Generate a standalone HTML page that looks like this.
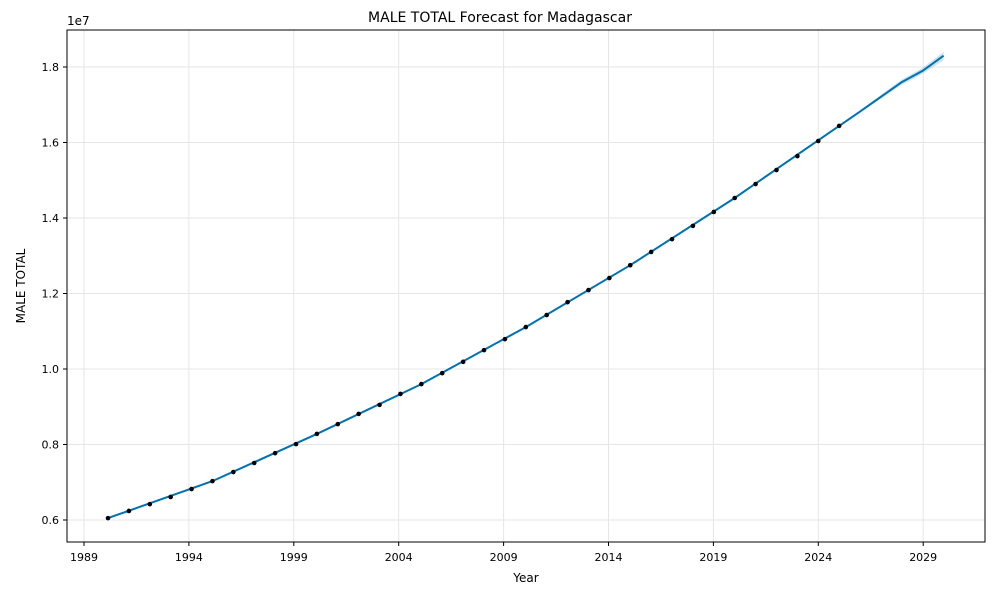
<!DOCTYPE html>
<html><head><meta charset="utf-8"><style>
body{margin:0;background:#fff;font-family:"Liberation Sans","DejaVu Sans",sans-serif}
svg text{font-family:"DejaVu Sans","Liberation Sans",sans-serif;fill:#000}
</style></head><body>
<svg id="chart" width="1000" height="600" xmlns="http://www.w3.org/2000/svg">
<rect width="1000" height="600" fill="#fff"/>
<g id="grid"></g>
<g id="band"></g>
<g id="marks"></g>
<rect x="67" y="30" width="918" height="512" fill="none" stroke="#000" stroke-width="1"/>
<g id="axes"></g>
<text x="500" y="22" text-anchor="middle" font-size="14">MALE TOTAL Forecast for Madagascar</text>
<text x="526" y="582" text-anchor="middle" font-size="12">Year</text>
<text x="25" y="286" text-anchor="middle" font-size="12" transform="rotate(-90 25 286)">MALE TOTAL</text>
<text x="67" y="25" font-size="12">1e7</text>
</svg>
<script>
const years=[1990,1991,1992,1993,1994,1995,1996,1997,1998,1999,2000,2001,2002,2003,2004,2005,2006,2007,2008,2009,2010,2011,2012,2013,2014,2015,2016,2017,2018,2019,2020,2021,2022,2023,2024,2025];
const actual=[6.05,6.24,6.42,6.61,6.82,7.03,7.27,7.51,7.77,8.01,8.28,8.54,8.81,9.05,9.34,9.60,9.89,10.19,10.50,10.79,11.11,11.43,11.77,12.09,12.41,12.75,13.10,13.44,13.79,14.16,14.53,14.90,15.27,15.64,16.04,16.44];
const fcYears=[1990,1995,2000,2005,2010,2015,2020,2025,2026,2027,2028,2029,2030];
const fcValues=[6.05,7.03,8.28,9.60,11.11,12.75,14.53,16.44,16.82,17.21,17.60,17.90,18.30];
const fcLower=[6.03,7.01,8.26,9.58,11.09,12.73,14.51,16.42,16.79,17.16,17.53,17.82,18.18];
const fcUpper=[6.07,7.05,8.30,9.62,11.13,12.77,14.55,16.46,16.85,17.26,17.67,17.98,18.40];
const xTicks=[1989,1994,1999,2004,2009,2014,2019,2024,2029];
const yTicks=[0.6,0.8,1.0,1.2,1.4,1.6,1.8];
const NS="http://www.w3.org/2000/svg";
function xs(y){return 84+(y-1989)*20.98;}
function xd(y){return 108+(y-1990)*20.89;}
function ys(v){return 520-(v-6)/2*75.5;}
function mk(t,a,p){const e=document.createElementNS(NS,t);for(const k in a)e.setAttribute(k,a[k]);document.getElementById(p).appendChild(e);return e;}
xTicks.forEach(t=>{const x=xs(t);
 const g=mk('line',{x1:x,x2:x,y1:30,y2:542,stroke:'#e6e6e6','stroke-width':1},'grid');
 
 
 mk('line',{x1:x,x2:x,y1:542,y2:546,stroke:'#000'},'axes');
 const l=mk('text',{x:x,y:561,'text-anchor':'middle','font-size':11},'axes');l.textContent=t;
 
 });
yTicks.forEach(t=>{const y=ys(t*10);
 const g=mk('line',{x1:67,x2:985,y1:y,y2:y,stroke:'#e6e6e6','stroke-width':1},'grid');
 
 
 mk('line',{x1:63,x2:67,y1:y,y2:y,stroke:'#000'},'axes');
 const l=mk('text',{x:59,y:y+4,'text-anchor':'end','font-size':11},'axes');l.textContent=t.toFixed(1);
 
 });
let bp=fcYears.map((y,i)=>xd(y)+','+ys(fcUpper[i])).concat(fcYears.map((y,i)=>xd(y)+','+ys(fcLower[i])).reverse());
const band=mk('polygon',{points:bp.join(' '),fill:'#0072B2','fill-opacity':0.2},'band');


const line=mk('polyline',{points:fcYears.map((y,i)=>xd(y)+','+ys(fcValues[i])).join(' '),fill:'none',stroke:'#0072B2','stroke-width':2},'marks');


years.forEach((y,i)=>{const c=mk('circle',{cx:xd(y),cy:ys(actual[i]),r:2.3,fill:'#000'},'marks');
 
 });
</script>
</body></html>
